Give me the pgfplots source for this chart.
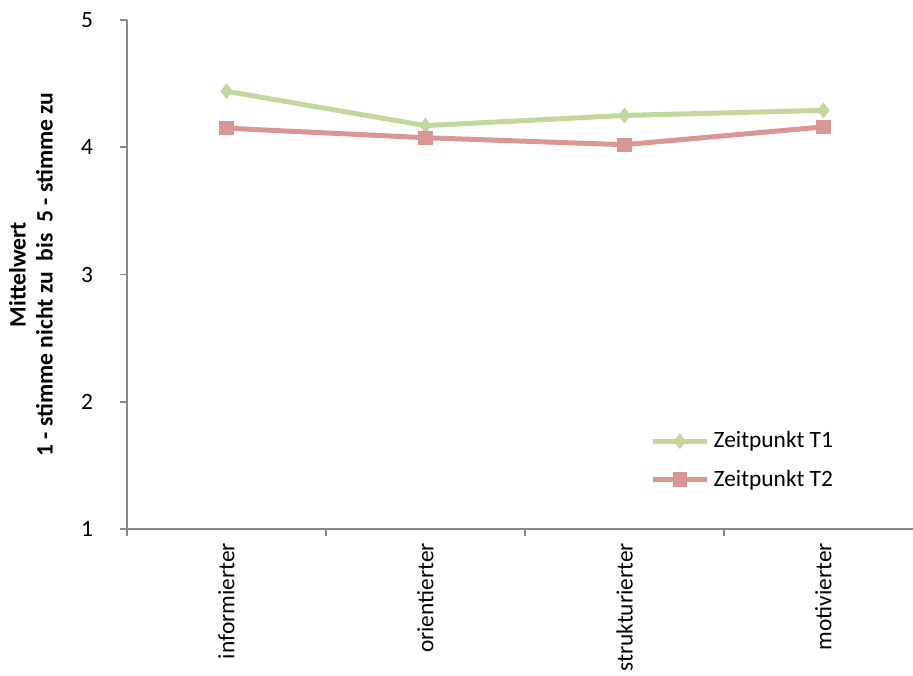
\documentclass[border=0pt]{standalone}
\usepackage{pgfplots}
\pgfplotsset{compat=1.18}
\usepackage{fontspec}
\setmainfont{Carlito}
\definecolor{tone}{HTML}{C3D69B}
\definecolor{ttwo}{HTML}{D99694}
\definecolor{axgray}{HTML}{888888}
\begin{document}
\begin{tikzpicture}
\begin{axis}[
  name=ax,
  at={(0,0)}, anchor=south west,
  scale only axis,
  width=393pt, height=254.5pt,
  xmin=-0.5, xmax=3.45,
  ymin=1, ymax=5,
  ytick={1,2,3,4,5},
  xtick={0,1,2,3},
  xticklabels={informierter,orientierter,strukturierter,motivierter},
  minor xtick={-0.5,0.5,1.5,2.5},
  major x tick style={draw=none},
  axis x line=bottom, axis y line=left,
  axis line style={-, draw=axgray, line width=0.8pt},
  tick style={draw=axgray, line width=0.8pt},
  tick align=outside,
  major tick length=3.5pt, minor tick length=3.5pt,
  /pgf/number format/assume math mode=true,
  every tick label/.append style={font=\fontsize{11.7}{13}\selectfont, text=black},
  xticklabel style={rotate=90, anchor=east, yshift=0pt, xshift=0pt},
  xticklabel shift=0pt,
  yticklabel style={xshift=-10pt},
  ylabel={\textbf{Mittelwert}\\\textbf{1 - stimme nicht zu~ bis~ 5 - stimme zu}},
  ylabel style={at={(axis description cs:0,0.5)}, anchor=center, yshift=48pt, align=center, font=\fontsize{11.8}{13.5}\selectfont},
  legend style={draw=none, fill=none, at={(0.665,0.2)}, anchor=north west, font=\fontsize{11.7}{13}\selectfont, row sep=5.5pt, inner sep=0pt},
  legend cell align=left,
  legend image code/.code={\draw[mark repeat=2,mark phase=2] plot coordinates {(0cm,0cm)(0.48cm,0cm)(0.96cm,0cm)};},
  clip=false,
]
\addplot[color=tone, line width=2.5pt, mark=diamond*, mark size=3.6pt, mark options={solid, line width=0.5pt}] coordinates {(0,4.44) (1,4.17) (2,4.25) (3,4.29)};
\addlegendentry{Zeitpunkt T1}
\addplot[color=ttwo, line width=2.5pt, mark=square*, mark size=3.3pt, mark options={solid, line width=0.5pt}] coordinates {(0,4.15) (1,4.075) (2,4.02) (3,4.16)};
\addlegendentry{Zeitpunkt T2}
\end{axis}
\pgfresetboundingbox
\path[use as bounding box] (-63.5pt,-73pt) rectangle (393pt,264.5pt);
\end{tikzpicture}
\end{document}
